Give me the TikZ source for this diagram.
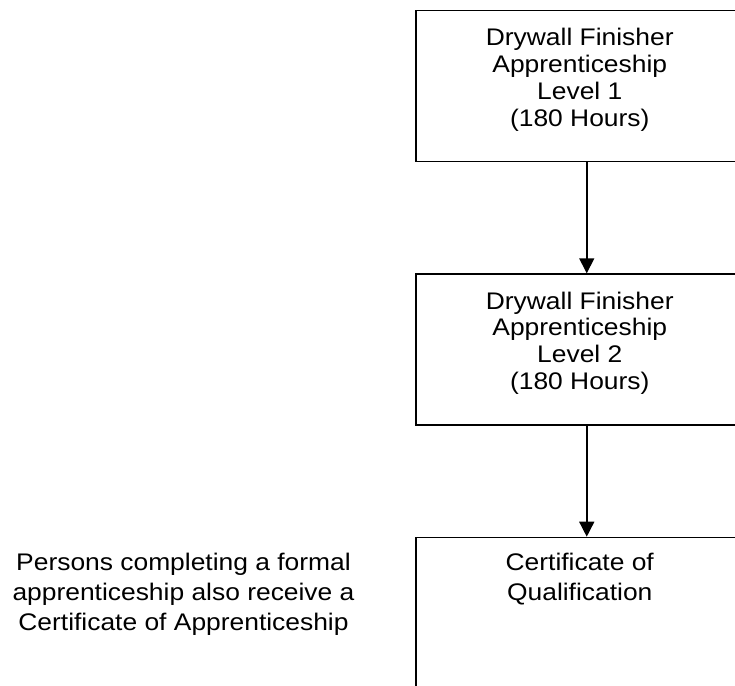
\documentclass[tikz,border=0pt]{standalone}
\usepackage{fontspec}
\setmainfont[FakeStretch=1.1]{Liberation Sans}
\usetikzlibrary{arrows.meta}
\begin{document}
\begin{tikzpicture}[x=1pt,y=1pt,
  box/.style={draw, line width=1.5pt, rectangle, inner sep=0pt, anchor=north west, minimum width=328pt},
  boxtext/.style={align=center, inner sep=0pt, anchor=north, font=\fontsize{24}{26.8}\selectfont},
  conn/.style={line width=1.5pt, -{Triangle[width=15pt,length=15pt]}}]
\useasboundingbox (0,0) rectangle (735,685);
\clip (0,0) rectangle (735,685);
\node[box, minimum height=151pt] (b1) at (415,675) {};
\node[box, minimum height=151pt] (b2) at (415,411.7) {};
\node[box, minimum height=180pt] (b3) at (415,148.3) {};
\node[boxtext, yshift=-18.2pt] (t1) at (b1.north) {Drywall Finisher\\Apprenticeship\\Level 1\\(180 Hours)};
\node[boxtext, yshift=-18.2pt] (t2) at (b2.north) {Drywall Finisher\\Apprenticeship\\Level 2\\(180 Hours)};
\node[boxtext, yshift=-16.5pt, font=\fontsize{24}{30}\selectfont] (t3) at (b3.north) {Certificate of\\Qualification};
\node[boxtext, font=\fontsize{24}{30}\selectfont] (note) at (183.5,132.5) {Persons completing a formal\\apprenticeship also receive a\\Certificate of Apprenticeship};
\draw[conn] ([xshift=7pt]b1.south) -- ([xshift=7pt]b2.north);
\draw[conn] ([xshift=7pt]b2.south) -- ([xshift=7pt]b3.north);
\end{tikzpicture}
\end{document}
